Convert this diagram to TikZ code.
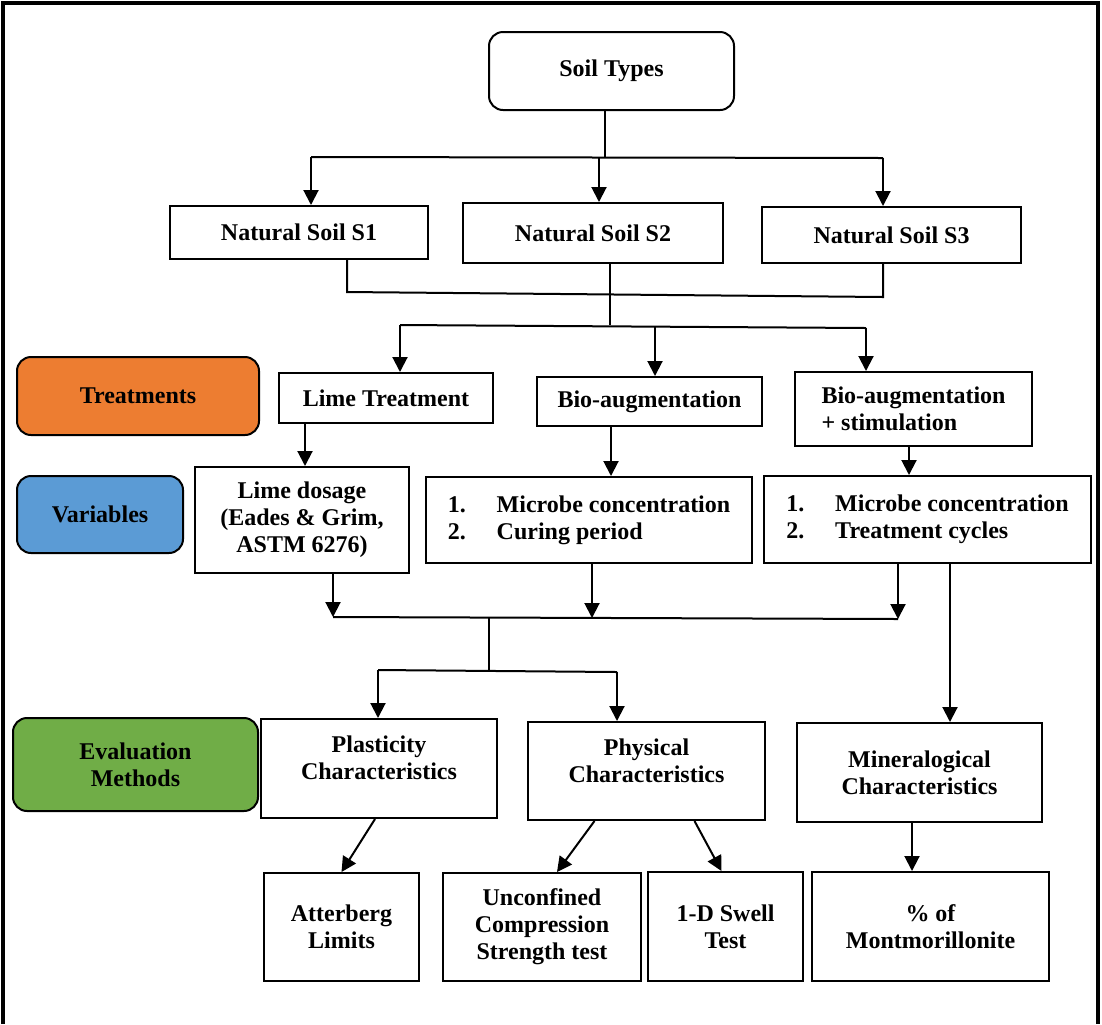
\documentclass[tikz,border=0pt]{standalone}
\usepackage{fontspec}
\setmainfont{Liberation Serif}
\usetikzlibrary{arrows.meta}
\definecolor{treatorange}{HTML}{ED7D31}
\definecolor{varblue}{HTML}{5B9BD5}
\definecolor{evalgreen}{HTML}{70AD47}

\begin{document}
\begin{tikzpicture}[x=0.5pt,y=-0.5pt,
    every node/.style={font=\bfseries\fontsize{12}{13.5}\selectfont, align=center, inner sep=0pt},
    box/.style={draw, line width=1pt},
    tag/.style={box, rounded corners=7pt},
    ln/.style={line width=1pt},
    arr/.style={-{Triangle[length=7.5pt,width=7.5pt]}, line width=1pt}]
    \useasboundingbox (0,0) rectangle (1102,1024);
    \draw[line width=2pt] (3,1024) -- (3,3) -- (1098,3) -- (1098,1024);

    % soils
    \node[tag, minimum width=122.5pt, minimum height=39pt] (st) at (611.5,71) {Soil Types};
    \node[box, minimum width=129pt, minimum height=26.5pt] (s1) at (299,232.5) {Natural Soil S1};
    \node[box, minimum width=130pt, minimum height=30pt] (s2) at (593,233) {Natural Soil S2};
    \node[box, minimum width=129.5pt, minimum height=28pt] (s3) at (891.5,235) {Natural Soil S3};

    % treatments
    \node[tag, fill=treatorange, minimum width=121pt, minimum height=39pt] (treat) at (138,396) {Treatments};
    \node[box, minimum width=107pt, minimum height=25pt] (lime) at (386,398) {Lime Treatment};
    \node[box, minimum width=112.5pt, minimum height=24.5pt] (bio) at (649.5,401.5) {Bio-augmentation};
    \node[box, minimum width=118.5pt, minimum height=37pt, align=left] (biostim) at (913.5,409) {Bio-augmentation\\+ stimulation};

    % variables
    \node[tag, fill=varblue, minimum width=83pt, minimum height=38.5pt] (var) at (100,514.5) {Variables};
    \node[box, minimum width=107pt, minimum height=53pt] (dose) at (302,520) {Lime dosage\\(Eades \& Grim,\\ASTM 6276)};
    \node[box, minimum width=163pt, minimum height=43pt, align=left] (mc1) at (589,520)
        {\makebox[24.5pt][l]{1.}Microbe concentration\\\makebox[24.5pt][l]{2.}Curing period};
    \node[box, minimum width=163.5pt, minimum height=43.5pt, align=left] (mc2) at (927.5,519.5)
        {\makebox[24.5pt][l]{1.}Microbe concentration\\\makebox[24.5pt][l]{2.}Treatment cycles};

    % evaluation
    \node[tag, fill=evalgreen, minimum width=122.5pt, minimum height=46.5pt] (eval) at (135.5,764.5) {Evaluation\\Methods};
    \node[box, minimum width=118pt, minimum height=49.5pt, text depth=10.5pt] (plast) at (379,768.5) {Plasticity\\Characteristics};
    \node[box, minimum width=118.5pt, minimum height=49pt, text depth=10.5pt] (phys) at (646.5,771) {Physical\\Characteristics};
    \node[box, minimum width=122.5pt, minimum height=49.5pt] (mine) at (919.5,772.5) {Mineralogical\\Characteristics};
    \node[box, minimum width=77.5pt, minimum height=54pt] (att) at (341.5,927) {Atterberg\\Limits};
    \node[box, minimum width=99pt, minimum height=54pt] (ucs) at (542,927) {Unconfined\\Compression\\Strength test};
    \node[box, minimum width=77.5pt, minimum height=54.5pt] (swell) at (725.5,926.5) {1-D Swell\\Test};
    \node[box, minimum width=118.5pt, minimum height=54.5pt] (mont) at (930.5,926.5) {\% of\\Montmorillonite};

    % soil types -> soils
    \coordinate (j0) at (605,157);
    \coordinate (a1) at (311,157);
    \coordinate (a2) at (599,157);
    \coordinate (a3) at (883,158);
    \draw[ln] (st.south -| j0) -- (j0);
    \draw[ln] (a1) -- (a3);
    \path[arr] (a1) edge (s1.north -| a1)
               (a2) edge (s2.north -| a2)
               (a3) edge (s3.north -| a3);

    % soils -> treatments
    \coordinate (b1) at (347,292);
    \coordinate (b3) at (883,297);
    \coordinate (c2) at (610,325);
    \draw[ln] (s1.south -| b1) -- (b1) -- (b3) -- (s3.south -| b3);
    \draw[ln] (s2.south -| c2) -- (c2);
    \coordinate (c1) at (400,325);
    \coordinate (cm) at (655,326);
    \coordinate (c3) at (866,328);
    \draw[ln] (c1) -- (c3);
    \path[arr] (c1) edge (lime.north -| c1)
               (cm) edge (bio.north -| cm)
               (c3) edge (biostim.north -| c3);

    % treatments -> variables
    \coordinate (x1) at (305,0);
    \coordinate (x2) at (611,0);
    \coordinate (x3) at (909,0);
    \path[arr] (lime.south -| x1) edge (dose.north -| x1)
               (bio.south -| x2) edge (mc1.north -| x2)
               (biostim.south -| x3) edge (mc2.north -| x3);

    % variables -> evaluation
    \coordinate (d1) at (333,617);
    \coordinate (d2) at (592,618);
    \coordinate (d3) at (898,619);
    \path[arr] (dose.south -| d1) edge (d1)
               (mc1.south -| d2) edge (d2)
               (mc2.south -| d3) edge (d3);
    \draw[ln] (d1) -- (d3);
    \coordinate (e0) at (489,618);
    \coordinate (e1) at (489,670);
    \draw[ln] (e0) -- (e1);
    \coordinate (f1) at (378,670);
    \coordinate (f2) at (617,672);
    \draw[ln] (f1) -- (f2);
    \path[arr] (f1) edge (plast.north -| f1)
               (f2) edge (phys.north -| f2);
    \coordinate (g1) at (950,0);
    \path[arr] (mc2.south -| g1) edge (mine.north -| g1);

    % evaluation -> tests
    \path[arr] ([xshift=-2pt]plast.south) edge (att.north)
               ([xshift=-26pt]phys.south) edge ([xshift=7.5pt]ucs.north)
               ([xshift=24pt]phys.south) edge ([xshift=-2pt]swell.north)
               ([xshift=-3.75pt]mine.south) edge ([xshift=-9.25pt]mont.north);
\end{tikzpicture}
\end{document}
